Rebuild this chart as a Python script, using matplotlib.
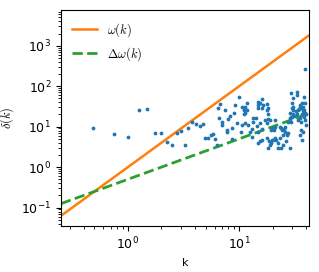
import numpy as np
import matplotlib
matplotlib.use("Agg")
import matplotlib.pyplot as plt

plt.rcParams['mathtext.fontset'] = 'cm'
plt.rcParams['font.size'] = 9

# scatter values (k, delta)
k_pts = [0.49, 0.75, 1.0, 1.26, 1.48, 1.75, 1.98,
         2.25, 2.49, 2.76, 3.0, 3.26, 3.47, 3.77, 4.10, 4.45, 4.74, 4.94, 5.26,
         5.60, 5.83, 6.08, 6.34, 6.47, 6.74, 7.03, 7.48, 7.80, 7.96, 8.30, 8.65,
         8.65, 9.20, 9.59, 9.02, 6.6,
         10.0, 11.8, 11.3, 11.3, 11.1, 14.8, 16.0, 15.5, 16.4, 17.9, 14.8, 18.2,
         29.4, 33.3, 33.3, 30.6, 30.0, 30.6, 35.5, 37.0, 37.7, 39.3, 38.5, 39.3,
         30.0, 32.6, 35.5, 37.7, 28.8, 30.6, 39.3, 34.0, 37.0, 29.4, 32.0, 35.5,
         39.3, 40.1, 37.7, 37.0, 38.5, 18.2, 10.6, 11.8, 11.1, 14.8, 16.1, 17.9,
         10.6, 12.1, 13.4, 14.2, 14.5, 17.1, 18.2, 17.9, 10.4, 12.6, 13.1, 14.8,
         16.1, 19.8, 20.7, 23.4, 24.4, 25.4, 25.9, 27.1, 24.9, 27.6, 21.1, 19.8,
         21.5, 19.4, 22.5, 18.2, 22.5, 23.9, 28.8, 15.5, 17.9, 26.5, 30.6, 34.7,
         36.2, 38.5, 30.0, 33.3, 37.0, 40.1, 19.0, 21.1, 19.4, 20.2, 19.0, 23.4,
         23.9, 25.9, 27.6, 29.4, 28.8, 36.2, 36.2, 35.5, 34.0, 13.1, 16.1, 18.6,
         7.8, 14.8, 24.9, 7.03, 11.3, 15.5, 13.4, 21.1]
d_pts = [9.3, 6.6, 5.6, 26, 28, 7.0, 7.0,
         4.2, 3.6, 7.0, 7.9, 3.6, 9.3, 13.1, 11.7, 10.5, 11.7, 5.3, 5.3,
         6.3, 6.6, 5.0, 3.6, 29, 37, 13.1, 26, 8.3, 15.6, 18.5, 9.3,
         5.0, 35, 12.4, 22, 16.5,
         54, 39, 31, 22, 26, 41, 49, 39, 35, 37, 29, 29,
         68, 72, 61, 51, 39, 31, 35, 39, 31, 267, 54, 39,
         29, 25, 31, 25, 22, 20, 22, 26, 29, 17.5, 18.5, 16.5,
         14.7, 11.1, 7.4, 4.7, 17.5, 21, 31, 26, 20, 35, 29, 26,
         11.1, 11.1, 13.1, 16.5, 10.5, 14.7, 15.6, 12.4, 7.4, 7.4, 8.8, 7.4,
         8.8, 9.3, 8.3, 9.9, 8.3, 8.8, 7.4, 6.3, 6.3, 7.0, 5.3, 4.7,
         4.7, 4.0, 4.0, 3.0, 3.0, 3.0, 3.0, 4.5, 5.3, 4.5, 26, 28,
         29, 26, 17.5, 20, 20, 20, 14.7, 14.7, 8.3, 4.7, 3.6, 5.3,
         9.3, 9.9, 13.1, 13.1, 16.5, 13.1, 8.3, 6.3, 14.7, 5.6, 4.7, 4.5,
         7.4, 4.0, 3.6, 11.1, 12.4, 12.4, 16.5, 9.9]

k_min, k_max = 0.25, 42.5
omega_coef = 1.0      # omega(k) = k^2
domega_coef = 0.5     # Delta omega(k) = k / 2

k_line = np.linspace(k_min, k_max, 400)

fig = plt.figure(figsize=(3.19, 2.72), dpi=100)
ax = fig.add_axes([0.191, 0.169, 0.778, 0.794])

ax.scatter(k_pts, d_pts, s=3, color='C0', zorder=3)
ax.plot(k_line, omega_coef * k_line**2, color='C1', lw=1.8, label=r'$\omega(k)$')
ax.plot(k_line, domega_coef * k_line, color='C2', lw=2, ls='--',
        label=r'$\Delta\omega(k)$')

ax.set_xscale('log')
ax.set_yscale('log')
ax.set_xlim(k_min, k_max)
ax.set_ylim(0.035, 7600)
ax.set_xlabel('k', fontsize=8)
ax.set_ylabel(r'$\delta(k)$')
ax.yaxis.set_label_coords(-0.18, 0.5)
ax.legend(loc='upper left', frameon=False)

fig.savefig('out.png', dpi=100)
